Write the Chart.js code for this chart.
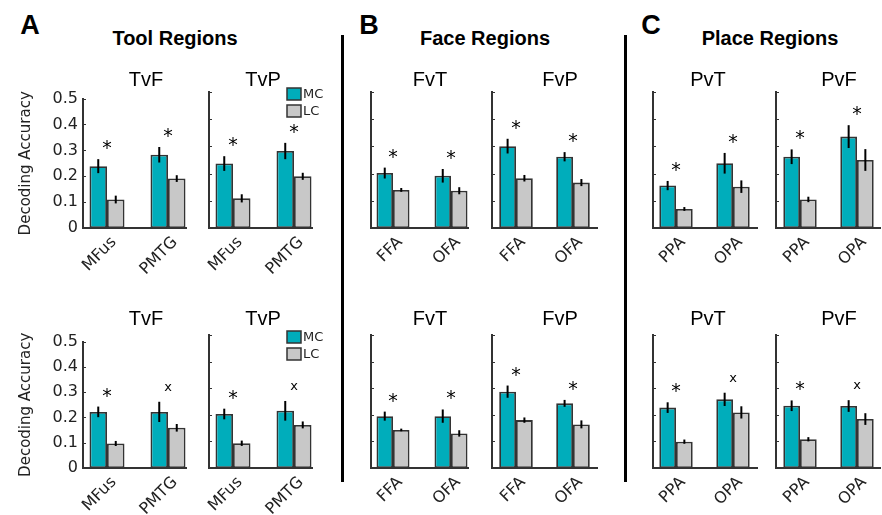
<!DOCTYPE html>
<html lang="en">
<head>
  <meta charset="UTF-8">
  <title>Decoding Accuracy by Region</title>
  <script src="https://cdn.jsdelivr.net/npm/chart.js"></script>
  <style>
    body { margin: 0; background: #fff; }
    #fig {
      position: relative;
      width: 882px;
      height: 515px;
      overflow: hidden;
      font-family: "Liberation Sans", Arial, sans-serif;
    }
    #fig canvas { position: absolute; }
    .txt {
      position: absolute;
      white-space: nowrap;
      line-height: 1;
      color: #000;
      transform: translateX(-50%);
    }
    .letter { font-size: 27px; font-weight: bold; top: 12px; }
    .group { font-size: 20px; font-weight: bold; top: 28px; }
    .ptitle { font-size: 20px; }
    .sep { position: absolute; width: 3px; background: #000; top: 35px; height: 447px; }
  </style>
</head>
<body>
  <div id="fig">
    <div class="txt letter" style="left:30px">A</div>
    <div class="txt letter" style="left:369px">B</div>
    <div class="txt letter" style="left:651px">C</div>
    <div class="txt group" style="left:175px">Tool Regions</div>
    <div class="txt group" style="left:485px">Face Regions</div>
    <div class="txt group" style="left:770px">Place Regions</div>
    <div class="sep" style="left:341px"></div>
    <div class="sep" style="left:624px"></div>
  </div>
  <script>
    // ---- data ----
    const conditions = ['MC', 'LC'];
    const toolRois = ['MFus', 'PMTG'];
    const faceRois = ['FFA', 'OFA'];
    const placeRois = ['PPA', 'OPA'];
    const panelNames = ['TvF', 'TvP', 'FvT', 'FvP', 'PvT', 'PvF'];
    const panelRois = [toolRois, toolRois, faceRois, faceRois, placeRois, placeRois];
    const yTicks = [0, 0.1, 0.2, 0.3, 0.4, 0.5];

    // top row
    const mcTop    = [[0.239, 0.283], [0.237, 0.283], [0.202, 0.192], [0.301, 0.262], [0.156, 0.238], [0.262, 0.336]];
    const mcTopErr = [[0.027, 0.030], [0.027, 0.030], [0.020, 0.025], [0.027, 0.017], [0.017, 0.038], [0.027, 0.042]];
    const lcTop    = [[0.110, 0.191], [0.109, 0.190], [0.140, 0.137], [0.183, 0.167], [0.070, 0.152], [0.105, 0.250]];
    const lcTopErr = [[0.015, 0.013], [0.015, 0.013], [0.007, 0.013], [0.012, 0.013], [0.007, 0.023], [0.010, 0.040]];
    const sigTop   = [['*', '*'], ['*', '*'], ['*', '*'], ['*', '*'], ['*', '*'], ['*', '*']];

    // bottom row
    const mcBot    = [[0.222, 0.222], [0.203, 0.215], [0.195, 0.195], [0.287, 0.243], [0.227, 0.258], [0.234, 0.233]];
    const mcBotErr = [[0.021, 0.040], [0.020, 0.037], [0.017, 0.025], [0.023, 0.013], [0.020, 0.025], [0.020, 0.022]];
    const lcBot    = [[0.097, 0.159], [0.093, 0.162], [0.143, 0.130], [0.180, 0.164], [0.099, 0.209], [0.108, 0.184]];
    const lcBotErr = [[0.010, 0.015], [0.010, 0.013], [0.005, 0.012], [0.010, 0.015], [0.008, 0.023], [0.008, 0.022]];
    const sigBot   = [['*', 'x'], ['*', 'x'], ['*', '*'], ['*', '*'], ['*', 'x'], ['*', 'x']];

    // ---- layout (pixels) ----
    const colLeft  = [83, 209, 371, 492, 653, 776];
    const colRight = [186, 312, 468, 597, 757, 880];
    const colC1    = [107, 233, 393, 516, 676, 800];
    const colC2    = [168, 294, 451, 573, 733, 857];
    const barW     = [17.5, 17.5, 16.5, 16.8, 16.7, 16.7];
    const titleX   = [146, 263, 430, 560, 708, 839];
    const rowTop   = [92, 335];
    const rowBot   = [228, 468];
    const rowTitle = [69, 308];

    const colors = ['#00ADBB', '#C8C8C8'];

    Chart.defaults.font.family = '"DejaVu Sans", sans-serif';
    Chart.defaults.color = '#222';

    const decorate = {
      id: 'decorate',
      afterDatasetsDraw(chart, args, opts) {
        const { ctx, chartArea, scales: { x, y } } = chart;
        ctx.save();

        // inward tick marks
        ctx.strokeStyle = '#333';
        ctx.lineWidth = 1;
        yTicks.forEach(v => {
          const py = Math.round(y.getPixelForValue(v)) + 0.5;
          ctx.beginPath();
          ctx.moveTo(chartArea.left, py);
          ctx.lineTo(chartArea.left + 3, py);
          ctx.stroke();
        });

        // error bars
        ctx.strokeStyle = '#000';
        ctx.lineWidth = 2;
        const tops = [0, 0];
        chart.data.datasets.forEach((ds, di) => {
          chart.getDatasetMeta(di).data.forEach((bar, i) => {
            const v = ds.data[i].y, e = ds.err[i];
            ctx.beginPath();
            ctx.moveTo(bar.x, y.getPixelForValue(v - e));
            ctx.lineTo(bar.x, y.getPixelForValue(v + e));
            ctx.stroke();
            tops[i] = Math.max(tops[i], v + e);
          });
        });

        // significance marks
        ctx.fillStyle = '#000';
        ctx.textAlign = 'center';
        ctx.textBaseline = 'alphabetic';
        opts.sig.forEach((m, i) => {
          ctx.font = m === '*' ? '19px "DejaVu Sans"' : '13px "DejaVu Sans"';
          const mt = ctx.measureText(m);
          const cy = y.getPixelForValue(tops[i]) - 14.5;
          ctx.fillText(m, x.getPixelForValue(i), cy + (mt.actualBoundingBoxAscent - mt.actualBoundingBoxDescent) / 2);
        });

        // legend
        if (opts.legend) {
          ctx.font = '13px "DejaVu Sans"';
          ctx.textAlign = 'left';
          ctx.textBaseline = 'middle';
          ctx.lineWidth = 1.5;
          ctx.strokeStyle = '#333';
          conditions.forEach((c, i) => {
            const bx = chartArea.right - 25, by = chartArea.top - 4 + i * 17;
            ctx.fillStyle = colors[i];
            ctx.fillRect(bx, by, 14, 12);
            ctx.strokeRect(bx, by, 14, 12);
            ctx.fillStyle = '#222';
            ctx.fillText(c, bx + 16, by + 6.5);
          });
        }
        ctx.restore();
      }
    };

    const fig = document.getElementById('fig');

    function makePanel(row, col, mc, mcErr, lc, lcErr, sig) {
      const L = colLeft[col], R = colRight[col], T = rowTop[row], B = rowBot[row];
      const s = colC2[col] - colC1[col];
      const padL = col === 0 ? L : 30, padR = 16, padT = 8, padB = 515 - B > 50 ? 50 : 515 - B;
      const canvas = document.createElement('canvas');
      canvas.width = R - L + padL + padR;
      canvas.height = B - T + padT + padB;
      canvas.style.left = (L - padL) + 'px';
      canvas.style.top = (T - padT) + 'px';
      fig.appendChild(canvas);

      const title = document.createElement('div');
      title.className = 'txt ptitle';
      title.style.left = titleX[col] + 'px';
      title.style.top = rowTitle[row] + 'px';
      title.textContent = panelNames[col];
      fig.appendChild(title);

      const rois = panelRois[col];
      const border = { display: true, color: '#333', width: 2 };
      const barStyle = { borderColor: '#333', borderWidth: 1.8, borderSkipped: false };
      new Chart(canvas, {
        type: 'bar',
        data: {
          datasets: [
            Object.assign({ label: conditions[0], data: mc.map((v, i) => ({ x: i, y: v })), err: mcErr, backgroundColor: colors[0] }, barStyle),
            Object.assign({ label: conditions[1], data: lc.map((v, i) => ({ x: i, y: v })), err: lcErr, backgroundColor: colors[1] }, barStyle)
          ]
        },
        options: {
          responsive: false,
          animation: false,
          events: [],
          categoryPercentage: 2 * barW[col] / s,
          barPercentage: 1,
          layout: { autoPadding: false, padding: { top: padT, right: padR, left: 0, bottom: 0 } },
          plugins: {
            legend: { display: false },
            tooltip: { enabled: false },
            decorate: { sig: sig, legend: col === 1 }
          },
          scales: {
            x: {
              type: 'linear',
              offset: false,
              min: (L - colC1[col]) / s,
              max: (R - colC1[col]) / s,
              grid: { display: false, drawTicks: false },
              border: border,
              afterBuildTicks: sc => { sc.ticks = rois.map((r, i) => ({ value: i })); },
              afterFit: sc => { sc.height = padB; },
              ticks: {
                autoSkip: false,
                minRotation: 45,
                maxRotation: 45,
                padding: 5,
                labelOffset: 7,
                color: '#222',
                font: { size: 16 },
                callback: v => rois[v]
              }
            },
            y: {
              min: 0,
              max: 0.5,
              grid: { display: false, drawTicks: false },
              border: border,
              afterBuildTicks: sc => { sc.ticks = yTicks.map(v => ({ value: v })); },
              afterFit: sc => { sc.width = padL; },
              ticks: {
                display: col === 0,
                padding: 5,
                color: '#222',
                font: { size: 16 },
                callback: v => String(v)
              },
              title: {
                display: col === 0,
                text: 'Decoding Accuracy',
                color: '#222',
                font: { size: 15 },
                padding: { top: 17, bottom: 0 }
              }
            }
          }
        },
        plugins: [decorate]
      });
    }

    for (let c = 0; c < 6; c++) {
      makePanel(0, c, mcTop[c], mcTopErr[c], lcTop[c], lcTopErr[c], sigTop[c]);
      makePanel(1, c, mcBot[c], mcBotErr[c], lcBot[c], lcBotErr[c], sigBot[c]);
    }
  </script>
</body>
</html>
